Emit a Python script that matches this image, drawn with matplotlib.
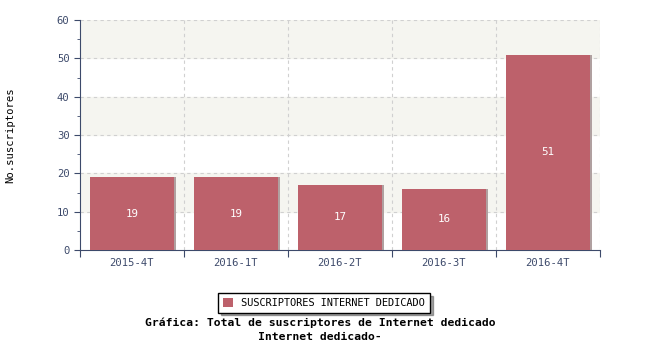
import matplotlib.pyplot as plt
from matplotlib.ticker import MultipleLocator
import numpy as np

categorias = ['2015-4T', '2016-1T', '2016-2T', '2016-3T', '2016-4T']
suscriptores = [19, 19, 17, 16, 51]

color_barra = '#bd616b'
color_eje = '#3d4a6b'
mono = 'DejaVu Sans Mono'

fig = plt.figure(figsize=(6.5, 3.5), dpi=100)
ax = fig.add_axes([80 / 650, 1 - 250 / 350, 520 / 650, 230 / 350])

x = np.arange(len(categorias))
ax.set_xlim(-0.5, len(categorias) - 0.5)
ax.set_ylim(0, 60)

# bandas de fondo alternas
for y0 in range(10, 60, 20):
    ax.axhspan(y0, y0 + 10, color='#f5f5f0', zorder=0)

# rejilla punteada
for y in range(10, 61, 10):
    ax.axhline(y, color='#d0d0d0', lw=0.8, ls=(0, (3, 3)), zorder=1)
for xb in np.arange(0.5, len(categorias), 1):
    ax.axvline(xb, color='#d0d0d0', lw=0.8, ls=(0, (3, 3)), zorder=1)

# sombra y barras
ax.bar(x + 0.02, suscriptores, width=0.8, color='#b0a0a0', zorder=2)
barras = ax.bar(x, suscriptores, width=0.8, color=color_barra, zorder=3,
                label='SUSCRIPTORES INTERNET DEDICADO')
for xi, v in zip(x, suscriptores):
    ax.text(xi, v / 2, str(v), ha='center', va='center', color='white',
            fontsize=7.8, family=mono, zorder=4)

# ejes
for s in ['top', 'right']:
    ax.spines[s].set_visible(False)
ax.spines['left'].set_color(color_eje)
ax.spines['bottom'].set_color(color_eje)

ax.yaxis.set_major_locator(MultipleLocator(10))
ax.yaxis.set_minor_locator(MultipleLocator(5))
ax.tick_params(axis='y', which='both', colors=color_eje, labelsize=7.6,
               direction='out', length=4)
ax.tick_params(axis='y', which='minor', length=2)
ax.set_xticks(np.arange(-0.5, len(categorias), 1))
ax.set_xticklabels([])
ax.set_xticks(x, minor=True)
ax.set_xticklabels(categorias, minor=True)
ax.tick_params(axis='x', which='major', colors=color_eje, length=5, direction='out')
ax.tick_params(axis='x', which='minor', length=0, labelsize=7.6, labelcolor=color_eje, pad=6)
for lab in ax.get_xticklabels(minor=True) + ax.get_yticklabels():
    lab.set_family(mono)

fig.text(10 / 650, 1 - 135 / 350, 'No.suscriptores', rotation=90, ha='center', va='center',
         fontsize=7.6, family=mono)

leg = fig.legend(handles=[barras], loc='center', bbox_to_anchor=(324 / 650, 1 - 303 / 350),
                 frameon=True, fancybox=False, shadow=True, prop={'family': mono, 'size': 7.4},
                 handlelength=1.0, handleheight=1.0, borderpad=0.45)
leg.get_frame().set_edgecolor('black')

fig.text(320 / 650, 1 - 323 / 350, 'Gráfica: Total de suscriptores de Internet dedicado',
         ha='center', va='center', fontsize=8.2, family=mono, weight='bold')
fig.text(320 / 650, 1 - 337 / 350, 'Internet dedicado-',
         ha='center', va='center', fontsize=8.2, family=mono, weight='bold')

fig.savefig('out.png', dpi=100)
